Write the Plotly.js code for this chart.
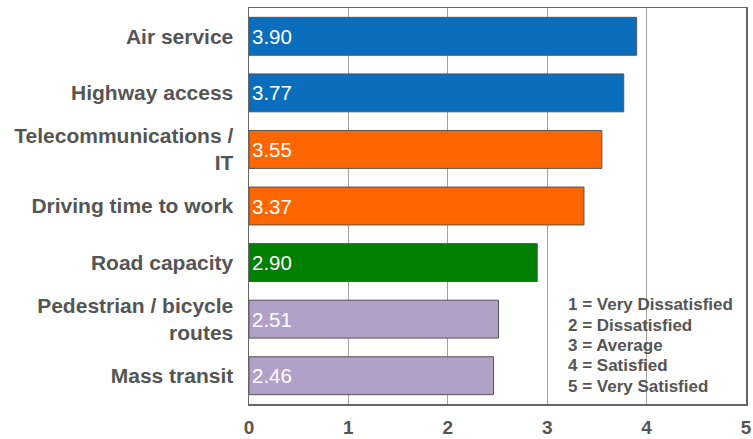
<!DOCTYPE html>
<html>
<head>
<meta charset="utf-8">
<script src="https://cdn.plot.ly/plotly-3.0.1.min.js"></script>
<style>html,body{margin:0;padding:0;background:#fff;}#chart{width:753px;height:439px;}</style>
</head>
<body>
<div id="chart"></div>
<script>
const categories = ["Air service", "Highway access", "Telecommunications /<br>IT", "Driving time to work", "Road capacity", "Pedestrian / bicycle<br>routes", "Mass transit"];
const values = [3.90, 3.77, 3.55, 3.37, 2.90, 2.51, 2.46];
const barColors = ["#0a6ebd", "#0a6ebd", "#ff6600", "#ff6600", "#008000", "#b1a0c7", "#b1a0c7"];
const xTicks = [0, 1, 2, 3, 4, 5];
const legendLines = ["1 = Very Dissatisfied", "2 = Dissatisfied", "3 = Average", "4 = Satisfied", "5 = Very Satisfied"];

const FONT = "Liberation Sans, Arial, Helvetica, sans-serif";

const trace = {
  type: "bar",
  orientation: "h",
  y: categories,
  x: values,
  marker: {color: barColors, line: {color: "#555555", width: 1}},
  text: values.map(v => v.toFixed(2)),
  textposition: "inside",
  insidetextanchor: "start",
  insidetextfont: {family: FONT, size: 20.5, color: "#ffffff"},
  hoverinfo: "none",
  cliponaxis: false
};

const annotations = legendLines.map((t, i) => ({
  xref: "x", yref: "paper",
  x: 3.19, y: 0.251 - i * 0.0516,
  xanchor: "left", yanchor: "middle",
  text: t, showarrow: false,
  font: {family: FONT, size: 17, color: "#555555", weight: "bold"}
}));

const layout = {
  width: 753, height: 439,
  margin: {l: 249, r: 7, t: 8, b: 35},
  paper_bgcolor: "#ffffff",
  plot_bgcolor: "#ffffff",
  showlegend: false,
  bargap: 0.33,
  font: {family: FONT},
  xaxis: {
    range: [0, 5],
    tickvals: xTicks,
    ticktext: xTicks.map(String),
    showgrid: true, gridcolor: "#a0a0a0", gridwidth: 1,
    zeroline: false,
    showline: true, linecolor: "#666666", linewidth: 1.5, mirror: true,
    ticks: "", ticklabelstandoff: 6,
    tickfont: {family: FONT, size: 19, color: "#555555", weight: "bold"},
    fixedrange: true
  },
  yaxis: {
    autorange: "reversed",
    type: "category",
    showgrid: false, zeroline: false,
    showline: true, linecolor: "#666666", linewidth: 1.5, mirror: true,
    ticks: "", ticklabelstandoff: 10,
    tickfont: {family: FONT, size: 21, color: "#555555", weight: "bold"},
    fixedrange: true
  },
  annotations: annotations
};

Plotly.newPlot("chart", [trace], layout, {displayModeBar: false, staticPlot: true});
</script>
</body>
</html>
